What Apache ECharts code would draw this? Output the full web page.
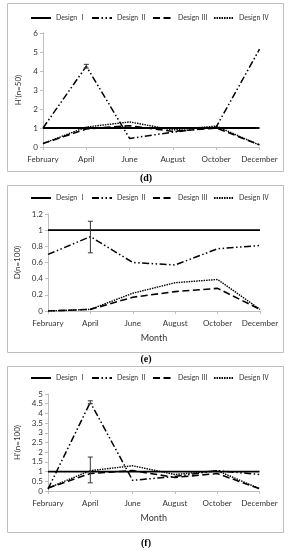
<!DOCTYPE html>
<html>
<head>
<meta charset="utf-8">
<script src="https://cdn.jsdelivr.net/npm/echarts@6/dist/echarts.min.js"></script>
<style>
html,body{margin:0;padding:0;background:#fff;}
#c{width:292px;height:550px;}
</style>
</head>
<body>
<div id="c"></div>
<script>
// ---- data ----
var months = ['February','April','June','August','October','December'];
var seriesNames = ['Design Ⅰ','Design Ⅱ','Design Ⅲ','Design Ⅳ'];

// panel (d): H'(n=50)
var dI   = [1, 1, 1, 1, 1, 1];
var dII  = [1.0, 4.25, 0.45, 0.78, 1.05, 5.15];
var dIII = [0.18, 0.95, 1.12, 0.82, 1.0, 0.12];
var dIV  = [0.18, 1.05, 1.32, 0.9, 1.1, 0.1];
var dErr = [[1, 4.15, 4.35]];           // [month index, low, high]

// panel (e): D(n=100)
var eI   = [1, 1, 1, 1, 1, 1];
var eII  = [0.70, 0.92, 0.60, 0.57, 0.77, 0.81];
var eIII = [0, 0.02, 0.17, 0.24, 0.28, 0.02];
var eIV  = [0, 0.02, 0.22, 0.35, 0.39, 0.02];
var eErr = [[1, 0.72, 1.11]];

// panel (f): H'(n=100)
var fI   = [1, 1, 1, 1, 1, 1];
var fII  = [0.1, 4.57, 0.55, 0.75, 1.05, 0.85];
var fIII = [0.15, 0.9, 1.05, 0.7, 0.9, 0.12];
var fIV  = [0.15, 1.05, 1.3, 0.85, 1.05, 0.12];
var fErr = [[1, 4.5, 4.65], [1, 0.42, 1.75]];

var yTitles = ["H'(n=50)", 'D(n=100)', "H'(n=100)"];
var yMax = [6, 1.2, 5];
var yInterval = [1, 0.2, 0.5];
var captions = ['(d)', '(e)', '(f)'];

// ---- styles ----
var FONT = 'Lato, "Noto Sans CJK SC", sans-serif';
var TXT = '#333';
var lineStyles = [
  {color:'#000', width:1.8, type:'solid'},
  {color:'#000', width:1.5, type:[7,2.5,1.5,2.5,1.5,2.5]},
  {color:'#000', width:1.6, type:[7,3.5]},
  {color:'#000', width:1.4, type:[1.5,1]}
];

var panels = [
  {data:[dI,dII,dIII,dIV], err:dErr, grid:{left:43, right:32.5, top:33, bottom:403}, legendTop:14, xName:'', box:[7,3,276,168], capY:178, nameGap:16},
  {data:[eI,eII,eIII,eIV], err:eErr, grid:{left:48, right:32, top:214, bottom:239}, legendTop:194, xName:'Month', box:[7,185,276,167], capY:359, nameGap:21},
  {data:[fI,fII,fIII,fIV], err:fErr, grid:{left:48, right:32.5, top:394, bottom:59}, legendTop:374, xName:'Month', box:[7,366,276,166], capY:543, nameGap:21}
];

var grids = [], xAxes = [], yAxes = [], series = [], legends = [], graphics = [];

panels.forEach(function(p, i){
  grids.push(p.grid);
  xAxes.push({
    type:'category', gridIndex:i, data:months, boundaryGap:false,
    name:p.xName, nameLocation:'middle', nameGap:23,
    nameTextStyle:{fontFamily:FONT, fontSize:9, color:TXT},
    axisLine:{lineStyle:{color:'#bfbfbf', width:1}},
    axisTick:{show:true, length:3, lineStyle:{color:'#bfbfbf'}},
    axisLabel:{fontFamily:FONT, fontSize:8, color:TXT, margin:8, interval:0},
    splitLine:{show:false}
  });
  yAxes.push({
    type:'value', gridIndex:i, min:0, max:yMax[i], interval:yInterval[i],
    name:yTitles[i], nameLocation:'middle', nameGap:p.nameGap,
    nameTextStyle:{fontFamily:FONT, fontSize:8, color:TXT},
    axisLine:{show:true, lineStyle:{color:'#bfbfbf', width:1}},
    axisTick:{show:true, length:3, lineStyle:{color:'#bfbfbf'}},
    axisLabel:{fontFamily:FONT, fontSize:8, color:TXT, margin:5},
    splitLine:{show:false}
  });
  p.data.forEach(function(vals, k){
    series.push({
      type:'line', name:seriesNames[k], xAxisIndex:i, yAxisIndex:i,
      data:vals, symbol:'none', lineStyle:lineStyles[k], itemStyle:{color:'#000'},
      animation:false, z:2+k
    });
  });
  series.push({
    type:'custom', xAxisIndex:i, yAxisIndex:i, data:p.err, animation:false, z:10,
    renderItem:function(params, api){
      var x = api.value(0), lo = api.value(1), hi = api.value(2);
      var a = api.coord([x, lo]), b = api.coord([x, hi]);
      var s = {stroke:'#333', lineWidth:1};
      return {type:'group', children:[
        {type:'line', shape:{x1:a[0], y1:a[1], x2:b[0], y2:b[1]}, style:s},
        {type:'line', shape:{x1:a[0]-2.5, y1:a[1], x2:a[0]+2.5, y2:a[1]}, style:s},
        {type:'line', shape:{x1:b[0]-2.5, y1:b[1], x2:b[0]+2.5, y2:b[1]}, style:s}
      ]};
    }
  });
  legends.push({
    top:p.legendTop, left:30, width:262, padding:0, itemWidth:20, itemHeight:10, itemGap:5,
    selectedMode:false, data:seriesNames,
    itemStyle:{opacity:0},
    textStyle:{fontFamily:FONT, fontSize:7, color:TXT}
  });
  graphics.push({
    type:'rect', shape:{x:p.box[0]+0.5, y:p.box[1]+0.5, width:p.box[2], height:p.box[3]},
    style:{fill:'none', stroke:'#bfbfbf', lineWidth:1}, silent:true
  });
  graphics.push({
    type:'text', x:146, y:p.capY,
    style:{text:captions[i], font:'bold 10px "Liberation Serif", serif', fill:'#000', textAlign:'center', textVerticalAlign:'middle'}
  });
});

var chart = echarts.init(document.getElementById('c'), null, {renderer:'canvas'});
chart.setOption({
  animation:false,
  backgroundColor:'#fff',
  grid:grids, xAxis:xAxes, yAxis:yAxes, series:series, legend:legends, graphic:graphics
});
</script>
</body>
</html>
